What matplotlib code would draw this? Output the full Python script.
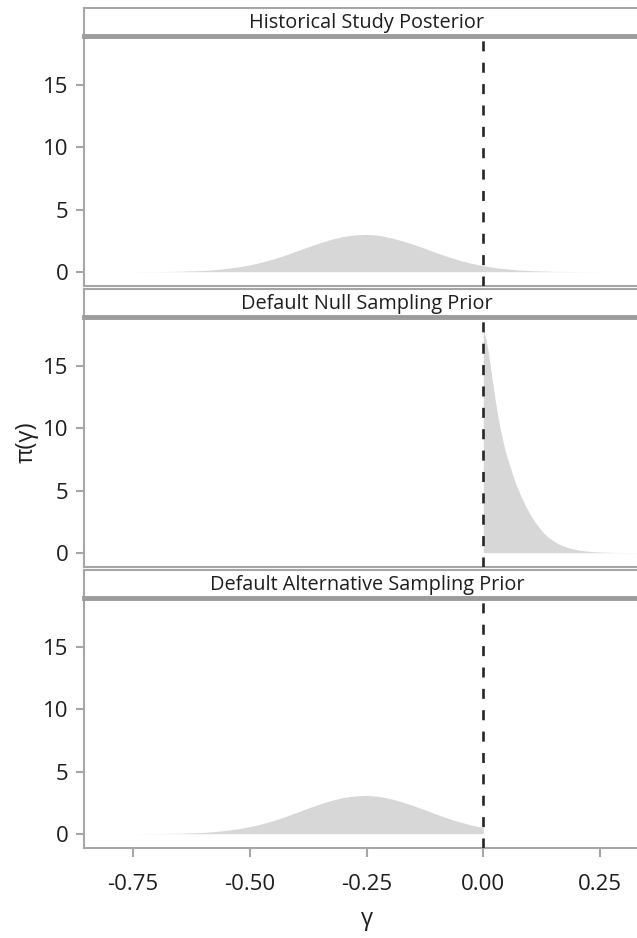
import numpy as np
import matplotlib
matplotlib.use("Agg")
import matplotlib.pyplot as plt

# values
panel_titles = ["Historical Study Posterior",
                "Default Null Sampling Prior",
                "Default Alternative Sampling Prior"]

hist_gamma = [-0.85, -0.80, -0.75, -0.70, -0.65, -0.60, -0.575, -0.55, -0.525, -0.50,
              -0.475, -0.45, -0.425, -0.40, -0.375, -0.35, -0.325, -0.30, -0.275,
              -0.25, -0.225, -0.20, -0.175, -0.15, -0.125, -0.10, -0.075, -0.05,
              -0.025, 0.0, 0.025, 0.05, 0.075, 0.10, 0.15, 0.20, 0.25, 0.30, 0.36]
hist_dens = [0.0, 0.001, 0.003, 0.011, 0.036, 0.10, 0.165, 0.26, 0.38, 0.55,
             0.76, 1.02, 1.32, 1.66, 2.0, 2.32, 2.61, 2.83, 2.96,
             3.0, 2.93, 2.75, 2.50, 2.20, 1.87, 1.52, 1.20, 0.91,
             0.67, 0.48, 0.33, 0.22, 0.14, 0.085, 0.029, 0.009, 0.002, 0.0005, 0.0]

null_gamma = [0.0, 0.005, 0.01, 0.015, 0.02, 0.025, 0.03, 0.035, 0.04, 0.045,
              0.05, 0.055, 0.06, 0.07, 0.08, 0.09, 0.10, 0.11, 0.12, 0.13,
              0.14, 0.16, 0.18, 0.20, 0.22, 0.24, 0.28, 0.36]
null_dens = [18.0, 17.3, 16.3, 15.0, 13.7, 12.4, 11.2, 10.2, 9.3, 8.5,
             7.8, 7.2, 6.6, 5.5, 4.6, 3.8, 3.1, 2.5, 2.0, 1.55,
             1.2, 0.72, 0.42, 0.24, 0.13, 0.07, 0.02, 0.0]

alt_gamma = [-0.85, -0.80, -0.75, -0.70, -0.65, -0.60, -0.575, -0.55, -0.525, -0.50,
             -0.475, -0.45, -0.425, -0.40, -0.375, -0.35, -0.325, -0.30, -0.275,
             -0.25, -0.225, -0.20, -0.175, -0.15, -0.125, -0.10, -0.075, -0.05,
             -0.025, 0.0]
alt_dens = [0.0, 0.001, 0.003, 0.011, 0.037, 0.10, 0.17, 0.27, 0.39, 0.57,
            0.78, 1.05, 1.36, 1.71, 2.06, 2.39, 2.68, 2.91, 3.04,
            3.08, 3.01, 2.83, 2.57, 2.26, 1.92, 1.56, 1.23, 0.94,
            0.69, 0.49]

x_ticks = [-0.75, -0.50, -0.25, 0.00, 0.25]
x_labels = ["-0.75", "-0.50", "-0.25", "0.00", "0.25"]
y_ticks = [0, 5, 10, 15]

plt.rcParams['font.family'] = ['Open Sans', 'DejaVu Sans']

W, H = 637, 938
fig = plt.figure(figsize=(W / 100, H / 100), dpi=100)

border = "#a6a6a6"
thick = "#9c9c9c"
fill_col = "#d7d7d7"
txt = "#1e1e1e"

left_px, right_px = 84, 650
strip_h, panel_h, gap = 28, 250, 3
curves = [(hist_gamma, hist_dens), (null_gamma, null_dens), (alt_gamma, alt_dens)]

for i, (title, (gx, gy)) in enumerate(zip(panel_titles, curves)):
    top = 8 + i * (strip_h + panel_h + gap)
    # strip on top of each panel
    sax = fig.add_axes([left_px / W, 1 - (top + strip_h) / H,
                        (right_px - left_px) / W, strip_h / H])
    sax.set_xticks([])
    sax.set_yticks([])
    for s in sax.spines.values():
        s.set_color(border)
        s.set_linewidth(1.5)
    sax.text(0.5, 0.45, title, ha="center", va="center", fontsize=14.3,
             color=txt, transform=sax.transAxes)

    ax = fig.add_axes([left_px / W, 1 - (top + strip_h + panel_h) / H,
                       (right_px - left_px) / W, panel_h / H])
    ax.fill_between(gx, 0, gy, color=fill_col, linewidth=0, zorder=1)
    ax.axvline(0, color="#262626", lw=1.9, linestyle=(0, (3.8, 4.3)), zorder=3)
    ax.set_xlim(-0.855, 0.357)
    ax.set_ylim(-1.15, 18.95)
    ax.set_yticks(y_ticks)
    ax.set_yticklabels([str(v) for v in y_ticks])
    for s in ax.spines.values():
        s.set_color(border)
        s.set_linewidth(1.5)
    ax.spines["top"].set_color(thick)
    ax.spines["top"].set_linewidth(3.5)
    ax.tick_params(axis="y", length=6, width=1.5, color=border, pad=5,
                   labelsize=16, labelcolor=txt)
    if i == 2:
        ax.set_xticks(x_ticks)
        ax.set_xticklabels(x_labels)
        ax.tick_params(axis="x", length=6.5, width=1.5, color=border, pad=12,
                       labelsize=16, labelcolor=txt)
        ax.set_xlabel("γ", fontsize=17, color=txt, labelpad=9)
    else:
        ax.set_xticks([])
    if i == 1:
        ax.set_ylabel("π(γ)", fontsize=17, color=txt, labelpad=3)

fig.savefig("out.png", dpi=100)
